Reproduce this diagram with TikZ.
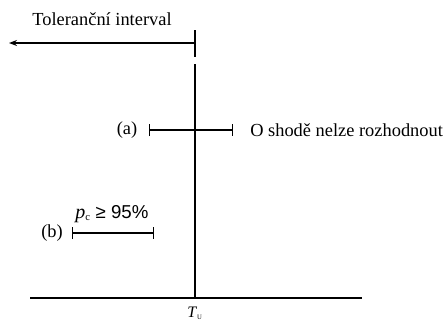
\documentclass[tikz,border=0pt]{standalone}
\usepackage{fontspec}
\setmainfont{Liberation Serif}
\newfontfamily\arialfont{Liberation Sans}
\usetikzlibrary{arrows.meta}

\begin{document}
\begin{tikzpicture}[x=0.75pt, y=-0.75pt,
    txt/.style={inner sep=0pt, font=\fontsize{13.8}{16}\selectfont},
    interval/.style={line width=0.9pt, {Bar[width=9pt]}-{Bar[width=9pt]}},
    axisline/.style={line width=1.6pt}]
    % параметры
    \def\Tx{195}    % положение T_U
    \def\Ya{130}    % уровень интервала (a)
    \def\Yb{233}    % уровень интервала (b)

    \useasboundingbox (0,0) rectangle (446,322);

    % толерантный интервал
    \coordinate (tolR) at (\Tx,43);
    \coordinate (tolL) at (9,43);
    \coordinate (tickT) at (\Tx,30);
    \coordinate (tickB) at (\Tx,57);
    \draw[line width=1pt] (tickT) -- (tickB);
    \draw[line width=1pt, -{Stealth[length=6pt, width=4.5pt]}] (tolR) -- (tolL);
    \node[txt] (tol) at (102,19) {Toleranční interval};

    % ось и граница T_U
    \coordinate (vTop) at (\Tx,64);
    \coordinate (vBot) at (\Tx,298);
    \coordinate (hL) at (30,298);
    \coordinate (hR) at (362,298);
    \draw[axisline] (vTop) -- (vBot);
    \draw[axisline] (hL) -- (hR);
    \node[inner sep=0pt, font=\fontsize{12}{13}\selectfont] (TU) at (\Tx,313)
        {\textit{T}\textsubscript{\fontsize{5}{6}\selectfont U}};

    % случай (a)
    \coordinate (aL) at (149,\Ya);
    \coordinate (aR) at (233,\Ya);
    \draw[interval] (aL) -- (aR);
    \node[txt] (labA) at (127,\Ya) {(a)};
    \node[txt, anchor=west] (noDec) at (250,\Ya) {O shodě nelze rozhodnout};

    % случай (b)
    \coordinate (bL) at (72,\Yb);
    \coordinate (bR) at (154,\Yb);
    \draw[interval] (bL) -- (bR);
    \node[txt] (labB) at (52,\Yb) {(b)};
    \node[txt, anchor=base west, font=\fontsize{15}{17}\selectfont] (pc) at (75,218)
        {\textit{p}\textsubscript{\fontsize{8}{9}\selectfont c} {\arialfont\fontsize{14}{16}\selectfont ≥ 95\%}};
\end{tikzpicture}
\end{document}
